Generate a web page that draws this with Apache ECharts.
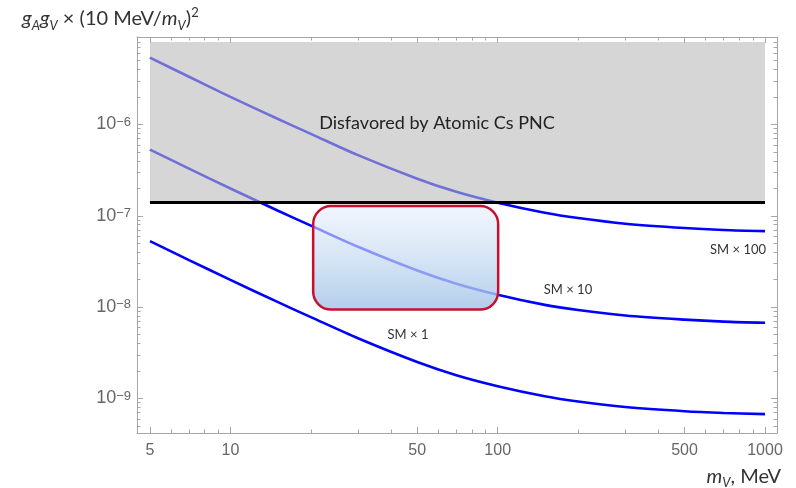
<!DOCTYPE html>
<html><head><meta charset="utf-8">
<script src="https://cdn.jsdelivr.net/npm/echarts@6/dist/echarts.min.js"></script>
<style>html,body{margin:0;padding:0;background:#fff}#c{width:796px;height:488px}</style>
</head><body><div id="c"></div><script>
// ---- data ----
const masses = [5, 7, 10, 15, 20, 30, 50, 70, 100, 150, 200, 300, 500, 700, 1000];
const smX1   = [5.28e-8, 3.278e-8, 1.988e-8, 1.141e-8, 7.78e-9, 4.57e-9, 2.51e-9, 1.80e-9, 1.365e-9, 1.059e-9, 9.27e-10, 8.07e-10, 7.26e-10, 6.95e-10, 6.75e-10];
const smX10  = [5.3e-7, 3.29e-7, 1.99e-7, 1.145e-7, 7.8e-8, 4.58e-8, 2.52e-8, 1.81e-8, 1.37e-8, 1.06e-8, 9.3e-9, 8.1e-9, 7.3e-9, 6.95e-9, 6.75e-9];
const smX100 = [5.4e-6, 3.33e-6, 2.01e-6, 1.155e-6, 7.9e-7, 4.62e-7, 2.55e-7, 1.83e-7, 1.39e-7, 1.08e-7, 9.45e-8, 8.2e-8, 7.35e-8, 7.0e-8, 6.8e-8];
const excludedX = [5, 1000];
const excludedY = [1.4e-7, 8e-6];
const boxX = [20.4, 100.4];
const boxY = [9.4e-9, 1.28e-7];
const xMajorTicks = [5, 10, 50, 100, 500, 1000];
const xMinorTicks = [6, 7, 8, 9, 20, 30, 40, 60, 70, 80, 90, 200, 300, 400, 600, 700, 800, 900];
const yMajorTicks = [1e-9, 1e-8, 1e-7, 1e-6];
const yMinorTicks = [5e-10, 6e-10, 7e-10, 8e-10, 9e-10,
  2e-9, 3e-9, 4e-9, 5e-9, 6e-9, 7e-9, 8e-9, 9e-9,
  2e-8, 3e-8, 4e-8, 5e-8, 6e-8, 7e-8, 8e-8, 9e-8,
  2e-7, 3e-7, 4e-7, 5e-7, 6e-7, 7e-7, 8e-7, 9e-7,
  2e-6, 3e-6, 4e-6, 5e-6, 6e-6, 7e-6, 8e-6, 9e-6];
const xRange = [4.472, 1108.9];
const yRange = [4.19e-10, 9.08e-6];

const frameColor = '#a6a6a6';
const labelColor = '#666';
const ff = 'Liberation Sans';
const annFont = 'Lato';

function xAxisDef(pos, ticks, len, showLabel, showLine) {
  return {
    type: 'log', logBase: 10, position: pos, min: xRange[0], max: xRange[1],
    axisLine: { show: showLine, lineStyle: { color: frameColor, width: 1 } },
    axisTick: { show: true, inside: true, length: len, customValues: ticks, lineStyle: { color: frameColor } },
    axisLabel: showLabel ? { show: true, customValues: ticks, color: labelColor, fontFamily: ff, fontSize: 16, margin: 10,
      formatter: v => String(Math.round(v)) } : { show: false },
    splitLine: { show: false }, minorTick: { show: false }
  };
}
function yAxisDef(pos, ticks, len, showLabel, showLine) {
  return {
    type: 'log', logBase: 10, position: pos, min: yRange[0], max: yRange[1],
    axisLine: { show: showLine, lineStyle: { color: frameColor, width: 1 } },
    axisTick: { show: true, inside: true, length: len, customValues: ticks, lineStyle: { color: frameColor } },
    axisLabel: showLabel ? { show: true, customValues: ticks, color: labelColor, fontFamily: ff, margin: 6,
      formatter: v => '{b|10}{s|\u2212' + Math.round(-Math.log10(v)) + '}',
      rich: { b: { fontSize: 18, fontFamily: ff, color: labelColor, lineHeight: 18, verticalAlign: 'bottom' },
              s: { fontSize: 13, fontFamily: ff, color: labelColor, lineHeight: 13, verticalAlign: 'top', padding: [0, 0, 9, 0] } } } : { show: false },
    splitLine: { show: false }, minorTick: { show: false }
  };
}

const chart = echarts.init(document.getElementById('c'), null, { renderer: 'canvas' });
const curveStyle = { color: '#0000ff', width: 2.6 };
function curve(name, vals) {
  return { name, type: 'line', xAxisIndex: 0, yAxisIndex: 0, data: masses.map((m, i) => [m, vals[i]]),
    showSymbol: false, symbol: 'none', smooth: 0.3, lineStyle: curveStyle, z: 2, silent: true };
}
chart.setOption({
  animation: false,
  backgroundColor: '#fff',
  grid: { left: 137, top: 37, width: 640, height: 396 },
  xAxis: [
    xAxisDef('bottom', xMajorTicks, 6, true, true),
    xAxisDef('bottom', xMinorTicks, 3.5, false, false),
    xAxisDef('top', xMajorTicks, 6, false, true),
    xAxisDef('top', xMinorTicks, 3.5, false, false)
  ],
  yAxis: [
    yAxisDef('left', yMajorTicks, 6, true, true),
    yAxisDef('left', yMinorTicks, 3.5, false, false),
    yAxisDef('right', yMajorTicks, 6, false, true),
    yAxisDef('right', yMinorTicks, 3.5, false, false)
  ],
  series: [
    curve('SM × 1', smX1),
    curve('SM × 10', smX10),
    curve('SM × 100', smX100),
    {
      type: 'custom', xAxisIndex: 0, yAxisIndex: 0, z: 3, silent: true,
      data: [[excludedX[0], excludedY[0], excludedX[1], excludedY[1]]],
      encode: { x: [0, 2], y: [1, 3] },
      renderItem: (params, api) => {
        const a = api.coord([api.value(0), api.value(3)]);
        const b = api.coord([api.value(2), api.value(1)]);
        return { type: 'rect', shape: { x: a[0], y: a[1], width: b[0] - a[0], height: b[1] - a[1] },
          style: { fill: 'rgba(186,186,186,0.6)' } };
      }
    },
    {
      type: 'line', xAxisIndex: 0, yAxisIndex: 0, z: 4, silent: true, symbol: 'none',
      data: [[excludedX[0], excludedY[0]], [excludedX[1], excludedY[0]]],
      lineStyle: { color: '#000', width: 3 }
    },
    {
      type: 'custom', xAxisIndex: 0, yAxisIndex: 0, z: 5, silent: true,
      data: [[boxX[0], boxY[0], boxX[1], boxY[1]]],
      encode: { x: [0, 2], y: [1, 3] },
      renderItem: (params, api) => {
        const a = api.coord([api.value(0), api.value(3)]);
        const b = api.coord([api.value(2), api.value(1)]);
        return { type: 'rect', shape: { x: a[0], y: a[1], width: b[0] - a[0], height: b[1] - a[1], r: 18 },
          style: {
            fill: new echarts.graphic.LinearGradient(0, 0, 0, 1, [
              { offset: 0, color: 'rgba(228,238,250,0.55)' },
              { offset: 1, color: 'rgba(165,196,232,0.85)' }
            ]),
            stroke: '#c8102e', lineWidth: 2.5
          } };
      }
    }
  ],
  graphic: [
    { type: 'text', z: 10, x: 437, y: 123, style: { text: 'Disfavored by Atomic Cs PNC', align: 'center', verticalAlign: 'middle',
      fontSize: 18, fontFamily: annFont, fill: '#222' } },
    { type: 'text', z: 10, x: 766, y: 250, style: { text: 'SM × 100', align: 'right', verticalAlign: 'middle',
      fontSize: 13, fontFamily: annFont, fill: '#333' } },
    { type: 'text', z: 10, x: 568, y: 290, style: { text: 'SM × 10', align: 'center', verticalAlign: 'middle',
      fontSize: 13, fontFamily: annFont, fill: '#333' } },
    { type: 'text', z: 10, x: 408, y: 335, style: { text: 'SM × 1', align: 'center', verticalAlign: 'middle',
      fontSize: 13, fontFamily: annFont, fill: '#333' } },
    { type: 'text', z: 10, x: 22, y: 19, style: {
      text: '{i|g}{sub|A}{i|g}{sub|V}{n| × (10 MeV/}{i|m}{sub|V}{n|)}{sup|2}', verticalAlign: 'middle', align: 'left',
      rich: {
        i: { fontSize: 20, fontStyle: 'italic', fontFamily: annFont, fill: '#333', lineHeight: 26, verticalAlign: 'middle' },
        n: { fontSize: 20, fontFamily: annFont, fill: '#333', lineHeight: 26, verticalAlign: 'middle' },
        sub: { fontSize: 13, fontStyle: 'italic', fontFamily: annFont, fill: '#333', lineHeight: 14, verticalAlign: 'bottom' },
        sup: { fontSize: 13, fontFamily: annFont, fill: '#333', lineHeight: 14, verticalAlign: 'top' }
      } } },
    { type: 'text', z: 10, x: 781, y: 477, style: {
      text: '{i|m}{sub|V}{n|, MeV}', verticalAlign: 'middle', align: 'right',
      rich: {
        i: { fontSize: 20, fontStyle: 'italic', fontFamily: annFont, fill: '#333', lineHeight: 24, verticalAlign: 'middle' },
        n: { fontSize: 20, fontFamily: annFont, fill: '#333', lineHeight: 24, verticalAlign: 'middle' },
        sub: { fontSize: 13, fontStyle: 'italic', fontFamily: annFont, fill: '#333', lineHeight: 12, verticalAlign: 'bottom' }
      } } }
  ]
});
</script></body></html>
